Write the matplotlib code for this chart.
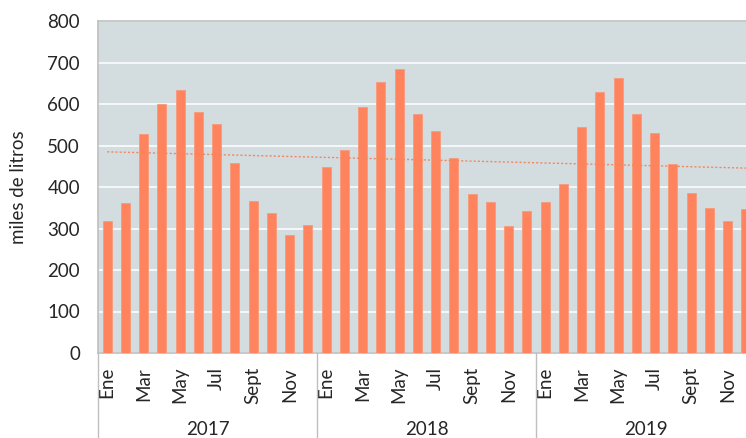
import numpy as np
import matplotlib.pyplot as plt
from matplotlib import transforms

# --- Datos ---
years = ['2017', '2018', '2019']
months = ['Ene', 'Feb', 'Mar', 'Abr', 'May', 'Jun', 'Jul', 'Ago', 'Sept', 'Oct', 'Nov', 'Dic']
shown_months = ['Ene', 'Mar', 'May', 'Jul', 'Sept', 'Nov']
v2017 = [319, 362, 528, 600, 633, 580, 553, 457, 366, 338, 285, 308]
v2018 = [447, 488, 592, 653, 685, 577, 535, 471, 383, 365, 305, 342]
v2019 = [365, 408, 545, 630, 663, 576, 531, 456, 385, 350, 317, 347]

values = np.array(v2017 + v2018 + v2019)
x = np.arange(len(values))

plt.rcParams['font.family'] = ['Lato', 'DejaVu Sans']

fig = plt.figure(figsize=(7.46, 4.38), dpi=100)
ax = fig.add_axes([98 / 746, 1 - 353 / 438, 657 / 746, 332 / 438])
ax.set_facecolor('#D3DCDE')

ax.bar(x, values, width=0.5, color='#FF835C', edgecolor='#F79A7C', linewidth=0.6, zorder=3)

# linea de tendencia
coef = np.polyfit(x, values, 1)
ax.plot(x, np.polyval(coef, x), linestyle=(0, (1.5, 1.5)), color='#F4865F', linewidth=1, zorder=4)

ax.set_ylim(0, 800)
ax.set_yticks(range(0, 801, 100))
ax.set_xlim(-0.5, len(values) - 0.5)
ax.yaxis.grid(True, color='white', linewidth=1.1, zorder=0)
ax.set_axisbelow(True)

ticks = [i for i in x if months[i % 12] in shown_months]
ax.set_xticks(ticks)
ax.set_xticklabels([months[i % 12] for i in ticks], rotation=90, va='top', ha='center')
ax.tick_params(axis='x', length=0, pad=10, labelsize=13.5, colors='#262626')
ax.tick_params(axis='y', length=0, pad=13, labelsize=13.5, colors='#262626')

for s in ax.spines.values():
    s.set_color('#BFBFBF')
    s.set_linewidth(1.2)

ax.set_ylabel('miles de litros', fontsize=13.5, color='#262626')
ax.yaxis.set_label_coords((27 - 98) / 657, 0.5)

# etiquetas de años y separadores
trans = transforms.blended_transform_factory(ax.transData, ax.transAxes)
low = -(438 - 353) / 332
for k, yr in enumerate(years):
    ax.plot([k * 12 - 0.5, k * 12 - 0.5], [0, low], color='#BFBFBF', linewidth=1,
            transform=trans, clip_on=False)
    ax.text(k * 12 + 5.5, -0.229, yr, transform=trans, ha='center', va='center',
            fontsize=13.5, color='#262626')

fig.savefig('out.png', dpi=100)
